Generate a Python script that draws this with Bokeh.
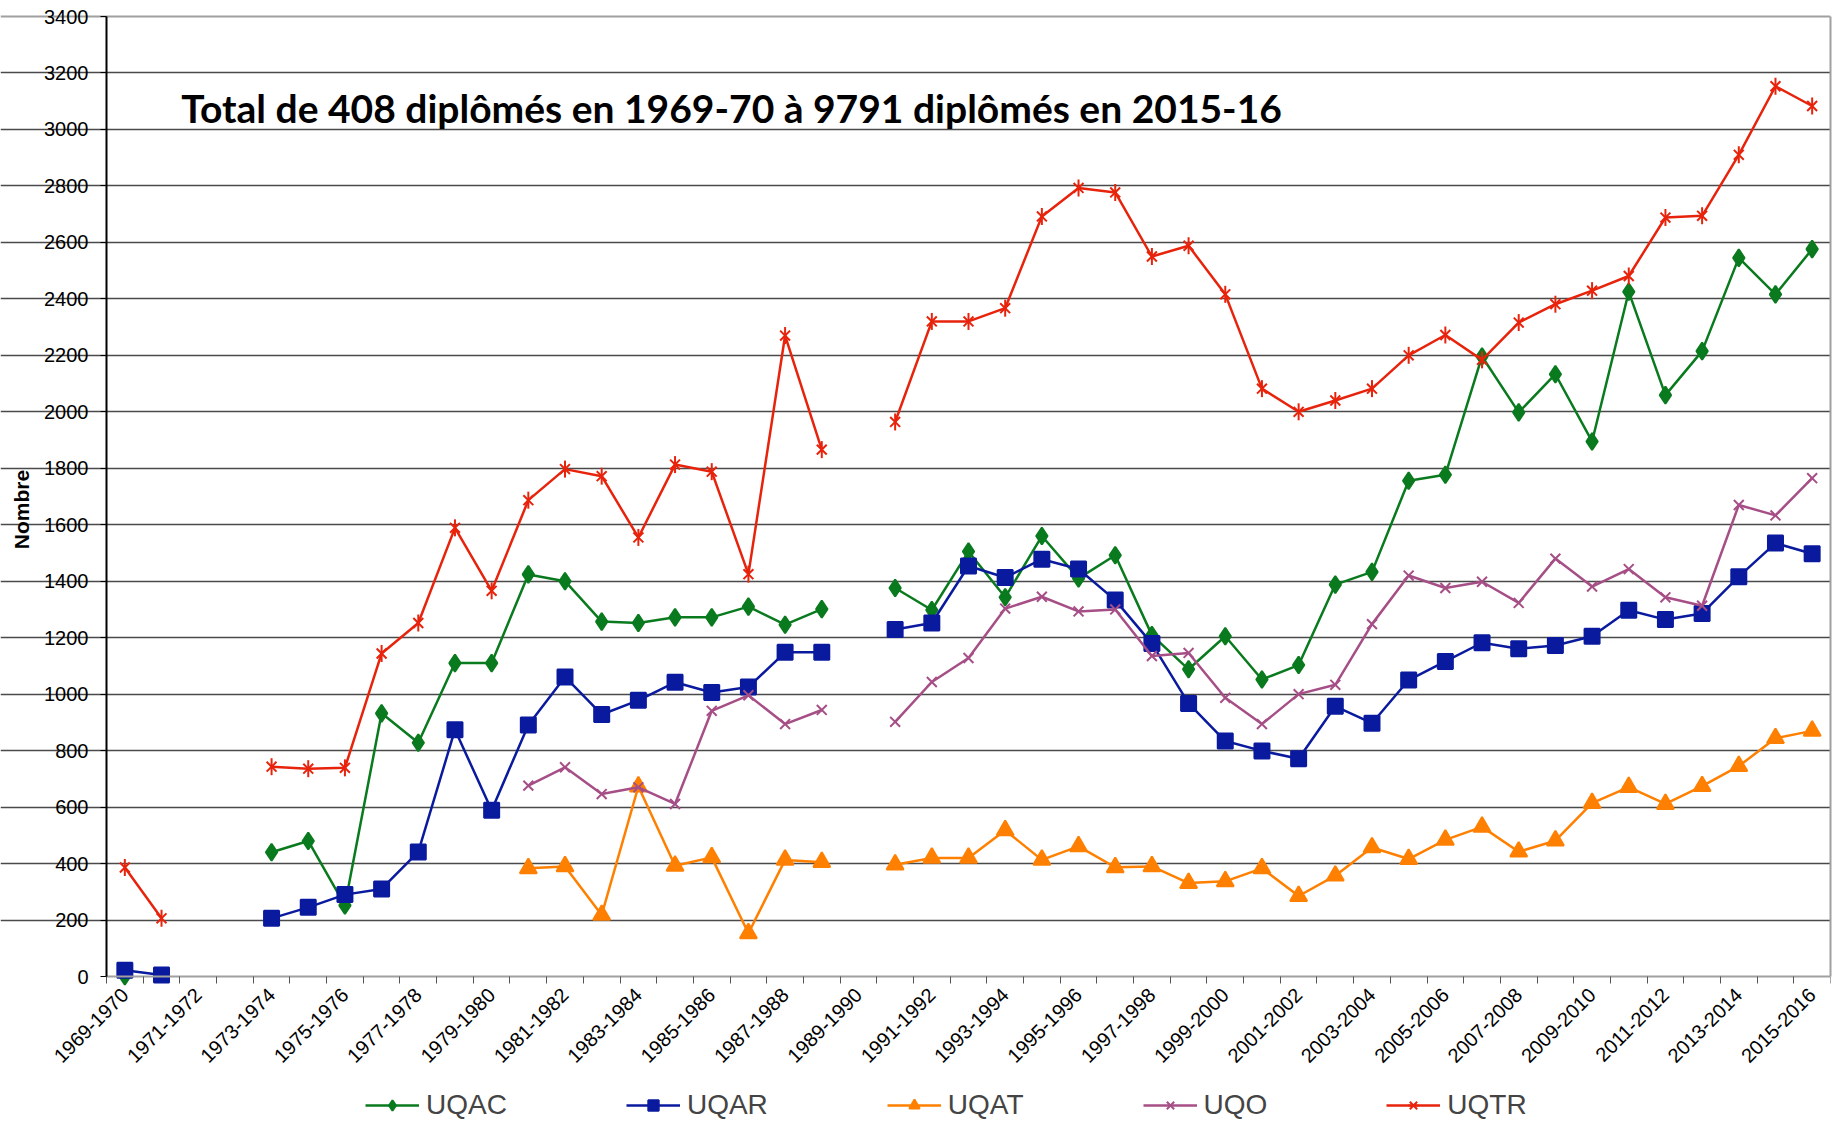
import math
from bokeh.plotting import figure
from bokeh.models import (ColumnDataSource, FixedTicker, Legend, LegendItem, Label, Range1d,
                          LinearAxis, Grid)
from bokeh.embed import file_html
from bokeh.resources import INLINE

years = ["1969-1970", "1970-1971", "1971-1972", "1972-1973", "1973-1974", "1974-1975",
         "1975-1976", "1976-1977", "1977-1978", "1978-1979", "1979-1980", "1980-1981",
         "1981-1982", "1982-1983", "1983-1984", "1984-1985", "1985-1986", "1986-1987",
         "1987-1988", "1988-1989", "1989-1990", "1990-1991", "1991-1992", "1992-1993",
         "1993-1994", "1994-1995", "1995-1996", "1996-1997", "1997-1998", "1998-1999",
         "1999-2000", "2000-2001", "2001-2002", "2002-2003", "2003-2004", "2004-2005",
         "2005-2006", "2006-2007", "2007-2008", "2008-2009", "2009-2010", "2010-2011",
         "2011-2012", "2012-2013", "2013-2014", "2014-2015", "2015-2016"]

uqac = [1, None, None, None, 440, 480, 252, 932, 828, 1110, 1110, 1424, 1400, 1257,
        1252, 1272, 1272, 1310, 1246, 1301, None, 1376, 1298, 1505, 1343, 1560, 1410,
        1492, 1209, 1088, 1205, 1052, 1103, 1388, 1433, 1756, 1777, 2196, 1998, 2133,
        1895, 2425, 2059, 2215, 2545, 2416, 2576]
uqar = [22, 5, None, None, 206, 245, 290, 310, 441, 874, 589, 891, 1061, 928,
        978, 1042, 1006, 1025, 1148, 1148, None, 1229, 1252, 1454, 1413, 1478, 1443,
        1333, 1179, 967, 834, 799, 771, 957, 897, 1050, 1116, 1182, 1161, 1172,
        1205, 1297, 1264, 1286, 1416, 1535, 1497]
uqat = [None, None, None, None, None, None, None, None, None, None, None, 383, 390, 218,
        673, 392, 422, 153, 413, 405, None, 396, 420, 420, 518, 413, 461,
        387, 390, 331, 337, 383, 285, 357, 457, 416, 484, 530, 442, 481,
        614, 671, 611, 674, 745, 844, 870]
uqo = [None, None, None, None, None, None, None, None, None, None, None, 676, 741, 646,
       670, 611, 941, 996, 894, 944, None, 902, 1043, 1128, 1303, 1345, 1293,
       1300, 1135, 1146, 987, 894, 1000, 1033, 1248, 1420, 1376, 1398, 1323, 1480,
       1381, 1443, 1343, 1313, 1670, 1633, 1765]
uqtr = [386, 206, None, None, 743, 736, 739, 1144, 1252, 1589, 1366, 1687, 1797, 1772,
        1555, 1813, 1788, 1425, 2270, 1866, None, 1964, 2320, 2320, 2367, 2692, 2793,
        2777, 2550, 2588, 2416, 2082, 2000, 2040, 2082, 2200, 2272, 2184, 2316, 2381,
        2429, 2481, 2688, 2694, 2910, 3153, 3083]

series_names = ["UQAC", "UQAR", "UQAT", "UQO", "UQTR"]
series_values = [uqac, uqar, uqat, uqo, uqtr]
series_colors = ["#0A7A1E", "#0A1A9E", "#FF8000", "#A64E86", "#E8230C"]
# each marker given as list of (marker, angle, size)
series_markers = [
    [("diamond", 0, 17)],
    [("square", 0, 15)],
    [("triangle", 0, 17)],
    [("x", 0, 14)],
    [("x", 0, 14), ("dash", math.pi / 2, 17)],
]

y_max = 3400
y_ticks = list(range(0, y_max + 1, 200))
title_text = "Total de 408 diplômés en 1969-70 à 9791 diplômés en 2015-16"
y_title = "Nombre"

xs = list(range(len(years)))
n = len(years)

# layout in pixels: plotting area 1724 x 960; room at left for y labels,
# room above for the top tick label, room below for x tick labels + legend
# (all drawn inside an enlarged frame)
PLOT_W = 1724
PLOT_H = 960
LEFT_PX = 106
TOP_PX = 16
EXTRA_PX = 145
cat_px = PLOT_W / n
x_low = -0.5 - LEFT_PX / cat_px
y_low = -y_max * EXTRA_PX / PLOT_H
y_high = y_max + y_max * TOP_PX / PLOT_H

p = figure(frame_width=PLOT_W + LEFT_PX, frame_height=TOP_PX + PLOT_H + EXTRA_PX,
           output_backend="svg", toolbar_location=None,
           x_range=Range1d(x_low, n - 0.5), y_range=Range1d(y_low, y_high),
           min_border_left=0, min_border_right=4, min_border_top=0, min_border_bottom=0,
           background_fill_color="white", border_fill_color="white")

p.outline_line_color = None

p.xgrid.visible = False
p.ygrid.ticker = FixedTicker(ticks=y_ticks[1:-1])
p.ygrid.bounds = (-0.5, n - 0.5)
p.ygrid.grid_line_color = "#4a4a4a"
p.ygrid.grid_line_width = 1.3
top_grid = Grid(dimension=1, ticker=FixedTicker(ticks=[y_max]), bounds=(-0.5, n - 0.5),
                grid_line_color="#a0a0a0", grid_line_width=2)
p.add_layout(top_grid)

# y axis drawn at the left edge of the plotting area
p.yaxis.fixed_location = -0.5
p.yaxis.ticker = FixedTicker(ticks=y_ticks)
p.yaxis.bounds = (0, y_max)
p.yaxis.major_label_text_font = "Liberation Sans"
p.yaxis.major_label_text_font_size = "20px"
p.yaxis.major_label_text_color = "black"
p.yaxis.axis_line_color = "black"
p.yaxis.axis_line_width = 2
p.yaxis.major_tick_line_color = "black"
p.yaxis.major_tick_in = 0
p.yaxis.major_tick_out = 6
p.yaxis.minor_tick_line_color = None
p.yaxis.major_label_standoff = 12

y_label = Label(x=-0.5 - (LEFT_PX - 21) / cat_px, y=1654, text=y_title, angle=math.pi / 2,
                text_font="Liberation Sans", text_font_style="bold", text_font_size="21px",
                text_color="black", text_align="center", text_baseline="middle")
p.add_layout(y_label)

# right border
right_axis = LinearAxis(ticker=FixedTicker(ticks=[]), bounds=(0, y_max),
                        axis_line_color="#a0a0a0", axis_line_width=2,
                        major_tick_line_color=None, minor_tick_line_color=None,
                        major_label_text_font_size="0px")
p.add_layout(right_axis, "right")

# x axis drawn at y = 0
p.xaxis.fixed_location = 0
p.xaxis.bounds = (-0.5, n - 0.5)
p.xaxis.ticker = FixedTicker(ticks=xs[::2], minor_ticks=[i - 0.5 for i in range(n + 1)])
p.xaxis.major_label_overrides = {i: years[i] for i in xs[::2]}
p.xaxis.major_label_orientation = math.pi / 4
p.xaxis.major_label_text_font = "Liberation Sans"
p.xaxis.major_label_text_font_size = "20px"
p.xaxis.major_label_text_color = "black"
p.xaxis.major_tick_line_color = None
p.xaxis.minor_tick_line_color = "#555555"
p.xaxis.minor_tick_in = 0
p.xaxis.minor_tick_out = 7
p.xaxis.minor_tick_line_width = 1
p.xaxis.axis_line_color = "#a0a0a0"
p.xaxis.axis_line_width = 2
p.xaxis.major_label_standoff = 8

items = []
for name, vals, col, mks in zip(series_names, series_values, series_colors, series_markers):
    ys = [float("nan") if v is None else v for v in vals]
    src = ColumnDataSource(dict(x=xs, y=ys))
    rs = [p.line("x", "y", source=src, line_color=col, line_width=2.5)]
    for mk, ang, sz in mks:
        rs.append(p.scatter("x", "y", source=src, marker=mk, size=sz, angle=ang,
                            fill_color=col, line_color=col, line_width=2))
    items.append(LegendItem(label=name, renderers=rs))

legend = Legend(items=items, orientation="horizontal", location=(LEFT_PX + 259, 0),
                label_text_font="Liberation Sans", label_text_font_size="28px",
                glyph_width=54, glyph_height=26, spacing=119, label_standoff=7,
                border_line_color=None, background_fill_alpha=0, padding=0, margin=0)
p.add_layout(legend)

title = Label(x=1.54, y=3075, text=title_text, text_font="Lato", text_font_style="bold",
              text_font_size="39px", text_color="black", text_baseline="alphabetic")
p.add_layout(title)

open("out.html", "w").write(file_html(p, INLINE))
